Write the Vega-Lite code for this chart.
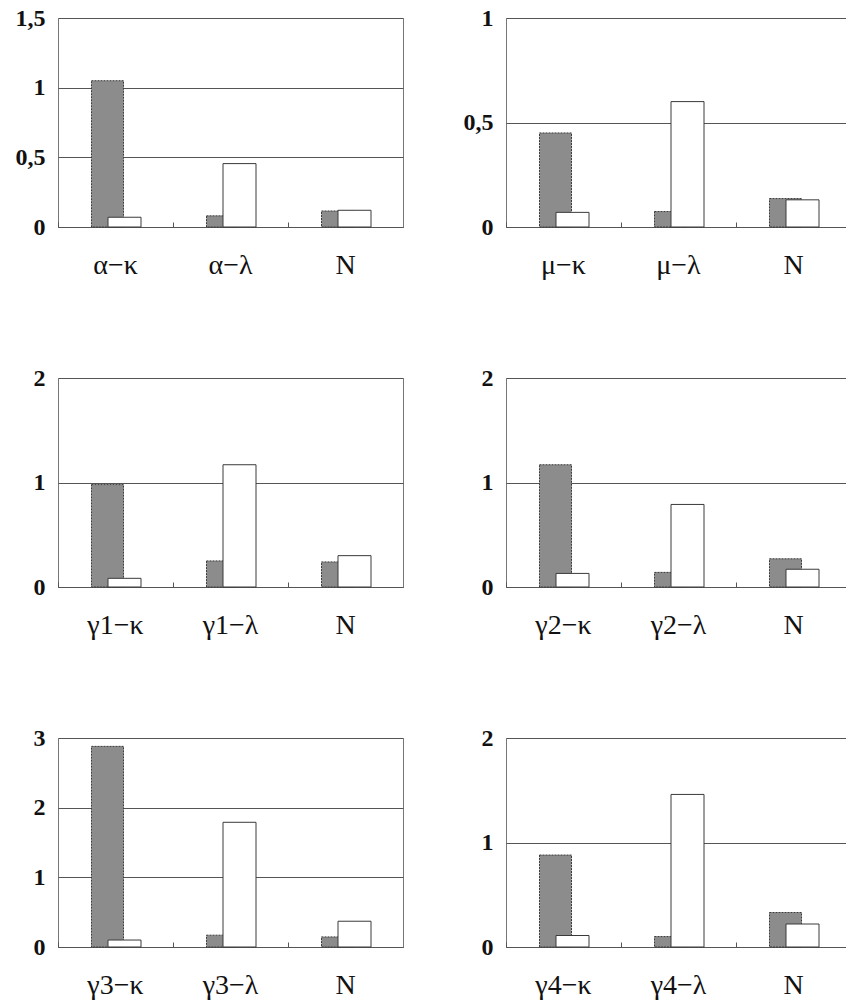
{
  "$schema": "https://vega.github.io/schema/vega-lite/v6.json",
  "background": "white",
  "padding": {"left": 14, "top": 5, "right": 0, "bottom": 0},
  "data": {"values": [
    {"panel": 1, "cat": "α−κ", "series": "a", "value": 1.05},
    {"panel": 1, "cat": "α−κ", "series": "b", "value": 0.07},
    {"panel": 1, "cat": "α−λ", "series": "a", "value": 0.08},
    {"panel": 1, "cat": "α−λ", "series": "b", "value": 0.455},
    {"panel": 1, "cat": "N", "series": "a", "value": 0.115},
    {"panel": 1, "cat": "N", "series": "b", "value": 0.12},
    {"panel": 2, "cat": "μ−κ", "series": "a", "value": 0.45},
    {"panel": 2, "cat": "μ−κ", "series": "b", "value": 0.07},
    {"panel": 2, "cat": "μ−λ", "series": "a", "value": 0.074},
    {"panel": 2, "cat": "μ−λ", "series": "b", "value": 0.6},
    {"panel": 2, "cat": "N", "series": "a", "value": 0.136},
    {"panel": 2, "cat": "N", "series": "b", "value": 0.13},
    {"panel": 3, "cat": "γ1−κ", "series": "a", "value": 0.98},
    {"panel": 3, "cat": "γ1−κ", "series": "b", "value": 0.083},
    {"panel": 3, "cat": "γ1−λ", "series": "a", "value": 0.25},
    {"panel": 3, "cat": "γ1−λ", "series": "b", "value": 1.17},
    {"panel": 3, "cat": "N", "series": "a", "value": 0.24},
    {"panel": 3, "cat": "N", "series": "b", "value": 0.3},
    {"panel": 4, "cat": "γ2−κ", "series": "a", "value": 1.17},
    {"panel": 4, "cat": "γ2−κ", "series": "b", "value": 0.13},
    {"panel": 4, "cat": "γ2−λ", "series": "a", "value": 0.14},
    {"panel": 4, "cat": "γ2−λ", "series": "b", "value": 0.79},
    {"panel": 4, "cat": "N", "series": "a", "value": 0.27},
    {"panel": 4, "cat": "N", "series": "b", "value": 0.17},
    {"panel": 5, "cat": "γ3−κ", "series": "a", "value": 2.88},
    {"panel": 5, "cat": "γ3−κ", "series": "b", "value": 0.1},
    {"panel": 5, "cat": "γ3−λ", "series": "a", "value": 0.17},
    {"panel": 5, "cat": "γ3−λ", "series": "b", "value": 1.79},
    {"panel": 5, "cat": "N", "series": "a", "value": 0.145},
    {"panel": 5, "cat": "N", "series": "b", "value": 0.37},
    {"panel": 6, "cat": "γ4−κ", "series": "a", "value": 0.88},
    {"panel": 6, "cat": "γ4−κ", "series": "b", "value": 0.11},
    {"panel": 6, "cat": "γ4−λ", "series": "a", "value": 0.1},
    {"panel": 6, "cat": "γ4−λ", "series": "b", "value": 1.46},
    {"panel": 6, "cat": "N", "series": "a", "value": 0.33},
    {"panel": 6, "cat": "N", "series": "b", "value": 0.22}
  ]},
  "config": {
    "view": {"stroke": "#777777", "strokeWidth": 1},
    "axisX": {
      "title": null, "labelAngle": 0, "labelFont": "Liberation Serif", "labelFontSize": 28,
      "labelColor": "#111111", "domainColor": "#555555", "tickColor": "#555555",
      "tickSize": -5, "bandPosition": 0, "labelPadding": 29,
      "grid": false
    },
    "axisY": {
      "title": null, "labelFont": "Liberation Serif", "labelFontWeight": "bold", "labelFontSize": 24,
      "labelColor": "#111111", "ticks": false, "tickSize": 0, "domain": false, "labelPadding": 13,
      "grid": true, "gridColor": "#555555", "gridWidth": 1,
      "labelExpr": "replace(format(datum.value, ''), '.', ',')"
    }
  },
  "columns": 2,
  "spacing": {"row": 151, "column": 103},
  "bounds": "flush",
  "concat": [
    {"width": 345, "height": 209, "transform": [{"filter": "datum.panel == 1"}],
     "encoding": {
       "x": {"field": "cat", "type": "nominal", "sort": null, "scale": {"paddingInner": 0, "paddingOuter": 0}},
       "y": {"field": "value", "type": "quantitative", "scale": {"domain": [0, 1.5], "nice": false}, "axis": {"values": [0, 0.5, 1, 1.5]}}
     },
     "layer": [
       {"transform": [{"filter": "datum.series == 'a'"}], "mark": {"type": "bar", "width": 32, "xOffset": -8, "fill": "#8c8c8c", "stroke": "#3a3a3a", "strokeWidth": 1, "strokeDash": [2, 1]}},
       {"transform": [{"filter": "datum.series == 'b'"}], "mark": {"type": "bar", "width": 33, "xOffset": 9, "fill": "white", "stroke": "#3a3a3a", "strokeWidth": 1}}
     ]},
    {"width": 345, "height": 209, "transform": [{"filter": "datum.panel == 2"}],
     "encoding": {
       "x": {"field": "cat", "type": "nominal", "sort": null, "scale": {"paddingInner": 0, "paddingOuter": 0}},
       "y": {"field": "value", "type": "quantitative", "scale": {"domain": [0, 1], "nice": false}, "axis": {"values": [0, 0.5, 1]}}
     },
     "layer": [
       {"transform": [{"filter": "datum.series == 'a'"}], "mark": {"type": "bar", "width": 32, "xOffset": -8, "fill": "#8c8c8c", "stroke": "#3a3a3a", "strokeWidth": 1, "strokeDash": [2, 1]}},
       {"transform": [{"filter": "datum.series == 'b'"}], "mark": {"type": "bar", "width": 33, "xOffset": 9, "fill": "white", "stroke": "#3a3a3a", "strokeWidth": 1}}
     ]},
    {"width": 345, "height": 209, "transform": [{"filter": "datum.panel == 3"}],
     "encoding": {
       "x": {"field": "cat", "type": "nominal", "sort": null, "scale": {"paddingInner": 0, "paddingOuter": 0}},
       "y": {"field": "value", "type": "quantitative", "scale": {"domain": [0, 2], "nice": false}, "axis": {"values": [0, 1, 2]}}
     },
     "layer": [
       {"transform": [{"filter": "datum.series == 'a'"}], "mark": {"type": "bar", "width": 32, "xOffset": -8, "fill": "#8c8c8c", "stroke": "#3a3a3a", "strokeWidth": 1, "strokeDash": [2, 1]}},
       {"transform": [{"filter": "datum.series == 'b'"}], "mark": {"type": "bar", "width": 33, "xOffset": 9, "fill": "white", "stroke": "#3a3a3a", "strokeWidth": 1}}
     ]},
    {"width": 345, "height": 209, "transform": [{"filter": "datum.panel == 4"}],
     "encoding": {
       "x": {"field": "cat", "type": "nominal", "sort": null, "scale": {"paddingInner": 0, "paddingOuter": 0}},
       "y": {"field": "value", "type": "quantitative", "scale": {"domain": [0, 2], "nice": false}, "axis": {"values": [0, 1, 2]}}
     },
     "layer": [
       {"transform": [{"filter": "datum.series == 'a'"}], "mark": {"type": "bar", "width": 32, "xOffset": -8, "fill": "#8c8c8c", "stroke": "#3a3a3a", "strokeWidth": 1, "strokeDash": [2, 1]}},
       {"transform": [{"filter": "datum.series == 'b'"}], "mark": {"type": "bar", "width": 33, "xOffset": 9, "fill": "white", "stroke": "#3a3a3a", "strokeWidth": 1}}
     ]},
    {"width": 345, "height": 209, "transform": [{"filter": "datum.panel == 5"}],
     "encoding": {
       "x": {"field": "cat", "type": "nominal", "sort": null, "scale": {"paddingInner": 0, "paddingOuter": 0}},
       "y": {"field": "value", "type": "quantitative", "scale": {"domain": [0, 3], "nice": false}, "axis": {"values": [0, 1, 2, 3]}}
     },
     "layer": [
       {"transform": [{"filter": "datum.series == 'a'"}], "mark": {"type": "bar", "width": 32, "xOffset": -8, "fill": "#8c8c8c", "stroke": "#3a3a3a", "strokeWidth": 1, "strokeDash": [2, 1]}},
       {"transform": [{"filter": "datum.series == 'b'"}], "mark": {"type": "bar", "width": 33, "xOffset": 9, "fill": "white", "stroke": "#3a3a3a", "strokeWidth": 1}}
     ]},
    {"width": 345, "height": 209, "transform": [{"filter": "datum.panel == 6"}],
     "encoding": {
       "x": {"field": "cat", "type": "nominal", "sort": null, "scale": {"paddingInner": 0, "paddingOuter": 0}},
       "y": {"field": "value", "type": "quantitative", "scale": {"domain": [0, 2], "nice": false}, "axis": {"values": [0, 1, 2]}}
     },
     "layer": [
       {"transform": [{"filter": "datum.series == 'a'"}], "mark": {"type": "bar", "width": 32, "xOffset": -8, "fill": "#8c8c8c", "stroke": "#3a3a3a", "strokeWidth": 1, "strokeDash": [2, 1]}},
       {"transform": [{"filter": "datum.series == 'b'"}], "mark": {"type": "bar", "width": 33, "xOffset": 9, "fill": "white", "stroke": "#3a3a3a", "strokeWidth": 1}}
     ]}
  ]
}
